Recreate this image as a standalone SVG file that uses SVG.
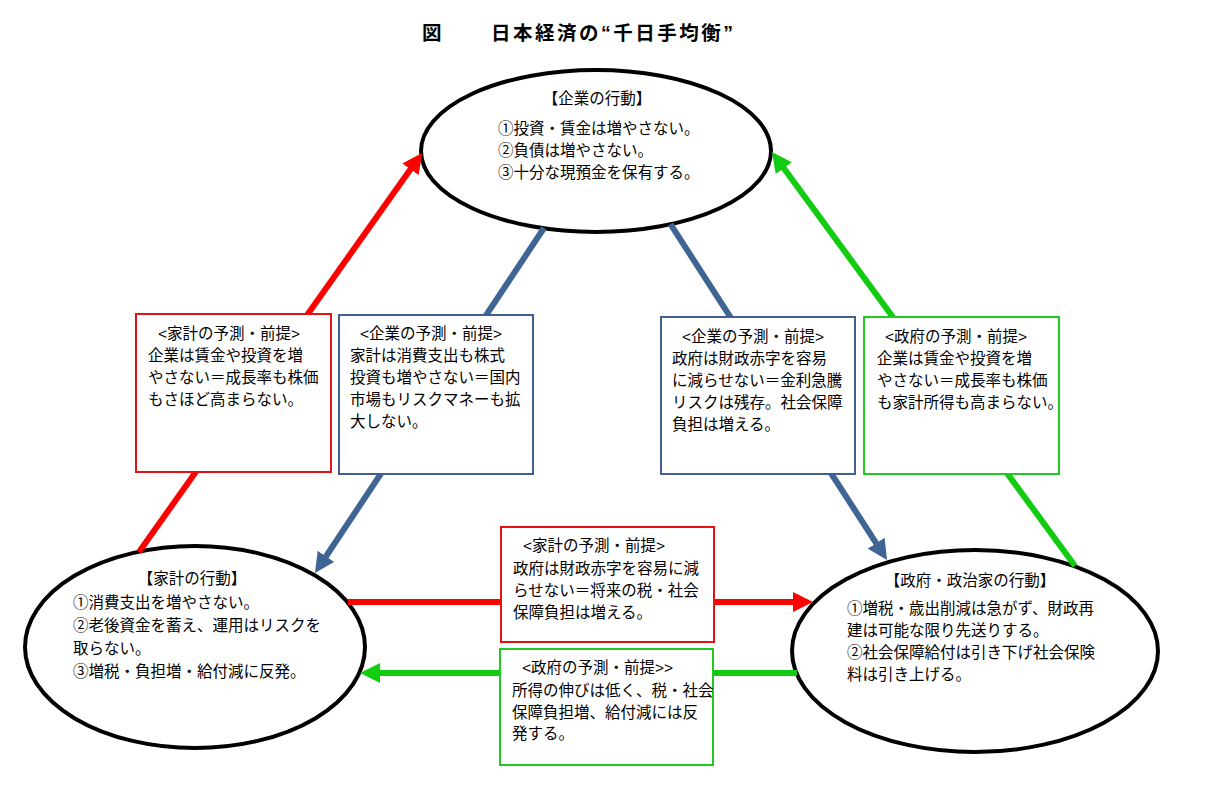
<svg xmlns="http://www.w3.org/2000/svg" width="1210" height="797" viewBox="0 0 1210 797">
<style>
text{font-family:"Liberation Sans","Noto Sans CJK JP",sans-serif;font-size:15.5px;fill:#000}
.title{font-size:19.5px;font-weight:bold}
.mid{text-anchor:middle}
.ell{fill:#fff;stroke:#000;stroke-width:4}
.box{fill:#fff;stroke-width:2}
.bred{stroke:#E81010}
.bblue{stroke:#3F6090}
.bgreen{stroke:#22C922}
.ln{fill:none;stroke-width:6}
.red{stroke:#FF0000}
.blue{stroke:#3E6593}
.green{stroke:#11CC11}
</style>
<defs>
<marker id="ar" viewBox="0 0 20 20" refX="8" refY="10" markerWidth="20" markerHeight="20" markerUnits="userSpaceOnUse" orient="auto"><path d="M0,0 L20,10 L0,20 z" fill="#FF0000"/></marker>
<marker id="ab" viewBox="0 0 20 20" refX="8" refY="10" markerWidth="20" markerHeight="20" markerUnits="userSpaceOnUse" orient="auto"><path d="M0,0 L20,10 L0,20 z" fill="#3E6593"/></marker>
<marker id="ag" viewBox="0 0 20 20" refX="8" refY="10" markerWidth="20" markerHeight="20" markerUnits="userSpaceOnUse" orient="auto"><path d="M0,0 L20,10 L0,20 z" fill="#11CC11"/></marker>
</defs>
<rect width="1210" height="797" fill="#fff"/>
<g id="title">
<text class="title" x="422" y="40">図</text>
<text class="title" x="491" y="40" textLength="242" lengthAdjust="spacing">日本経済の“千日手均衡”</text>
</g>
<g id="node-kigyo">
<ellipse class="ell" cx="596" cy="151" rx="175" ry="81"/>
<text class="mid" x="597" y="104">【企業の行動】</text>
<text x="498" y="134">①投資・賃金は増やさない。</text>
<text x="498" y="156">②負債は増やさない。</text>
<text x="498" y="178">③十分な現預金を保有する。</text>
</g>
<g id="node-kakei">
<ellipse class="ell" cx="195" cy="647" rx="170" ry="101"/>
<text class="mid" x="192" y="584">【家計の行動】</text>
<text x="73" y="608">①消費支出を増やさない。</text>
<text x="73" y="631">②老後資金を蓄え、運用はリスクを</text>
<text x="73" y="654">取らない。</text>
<text x="73" y="677">③増税・負担増・給付減に反発。</text>
</g>
<g id="node-seifu">
<ellipse class="ell" cx="975" cy="651" rx="183" ry="101"/>
<text class="mid" x="970" y="586">【政府・政治家の行動】</text>
<text x="847" y="614">①増税・歳出削減は急がず、財政再</text>
<text x="847" y="636">建は可能な限り先送りする。</text>
<text x="847" y="658">②社会保障給付は引き下げ社会保険</text>
<text x="847" y="680">料は引き上げる。</text>
</g>
<g id="connectors">
<path class="ln red" d="M139,552 L415.1,162.8" marker-end="url(#ar)"/>
<path class="ln blue" d="M544,228 L321.6,563" marker-end="url(#ab)"/>
<path class="ln blue" d="M670.5,224.2 L880.5,549.9" marker-end="url(#ab)"/>
<path class="ln green" d="M1075,566 L779.1,161.7" marker-end="url(#ag)"/>
<path class="ln red" d="M348,602 L801,602" marker-end="url(#ar)"/>
<path class="ln green" d="M797,673 L372,673" marker-end="url(#ag)"/>
</g>
<g id="box-kakei-yosoku-1">
<rect class="box bred" x="136" y="314" width="195" height="158"/>
<text x="158" y="339">&lt;家計の予測・前提&gt;</text>
<text x="148" y="361">企業は賃金や投資を増</text>
<text x="148" y="383">やさない＝成長率も株価</text>
<text x="148" y="405">もさほど高まらない。</text>
</g>
<g id="box-kigyo-yosoku-1">
<rect class="box bblue" x="339" y="315" width="194" height="159"/>
<text x="360" y="339">&lt;企業の予測・前提&gt;</text>
<text x="350" y="361">家計は消費支出も株式</text>
<text x="350" y="383">投資も増やさない＝国内</text>
<text x="350" y="405">市場もリスクマネーも拡</text>
<text x="350" y="427">大しない。</text>
</g>
<g id="box-kigyo-yosoku-2">
<rect class="box bblue" x="661" y="317" width="194" height="157"/>
<text x="682" y="342">&lt;企業の予測・前提&gt;</text>
<text x="672" y="364">政府は財政赤字を容易</text>
<text x="672" y="386">に減らせない＝金利急騰</text>
<text x="672" y="408">リスクは残存。社会保障</text>
<text x="672" y="430">負担は増える。</text>
</g>
<g id="box-seifu-yosoku-1">
<rect class="box bgreen" x="864" y="317" width="195" height="157"/>
<text x="885" y="342">&lt;政府の予測・前提&gt;</text>
<text x="877" y="364">企業は賃金や投資を増</text>
<text x="877" y="386">やさない＝成長率も株価</text>
<text x="877" y="408">も家計所得も高まらない。</text>
</g>
<g id="box-kakei-yosoku-2">
<rect class="box bred" x="501" y="527" width="213" height="115"/>
<text x="523" y="551">&lt;家計の予測・前提&gt;</text>
<text x="513" y="574">政府は財政赤字を容易に減</text>
<text x="513" y="596">らせない＝将来の税・社会</text>
<text x="513" y="618">保障負担は増える。</text>
</g>
<g id="box-seifu-yosoku-2">
<rect class="box bgreen" x="500" y="649" width="213" height="116"/>
<text x="522" y="673">&lt;政府の予測・前提&gt;&gt;</text>
<text x="512" y="696">所得の伸びは低く、税・社会</text>
<text x="512" y="718">保障負担増、給付減には反</text>
<text x="512" y="739">発する。</text>
</g>
</svg>
